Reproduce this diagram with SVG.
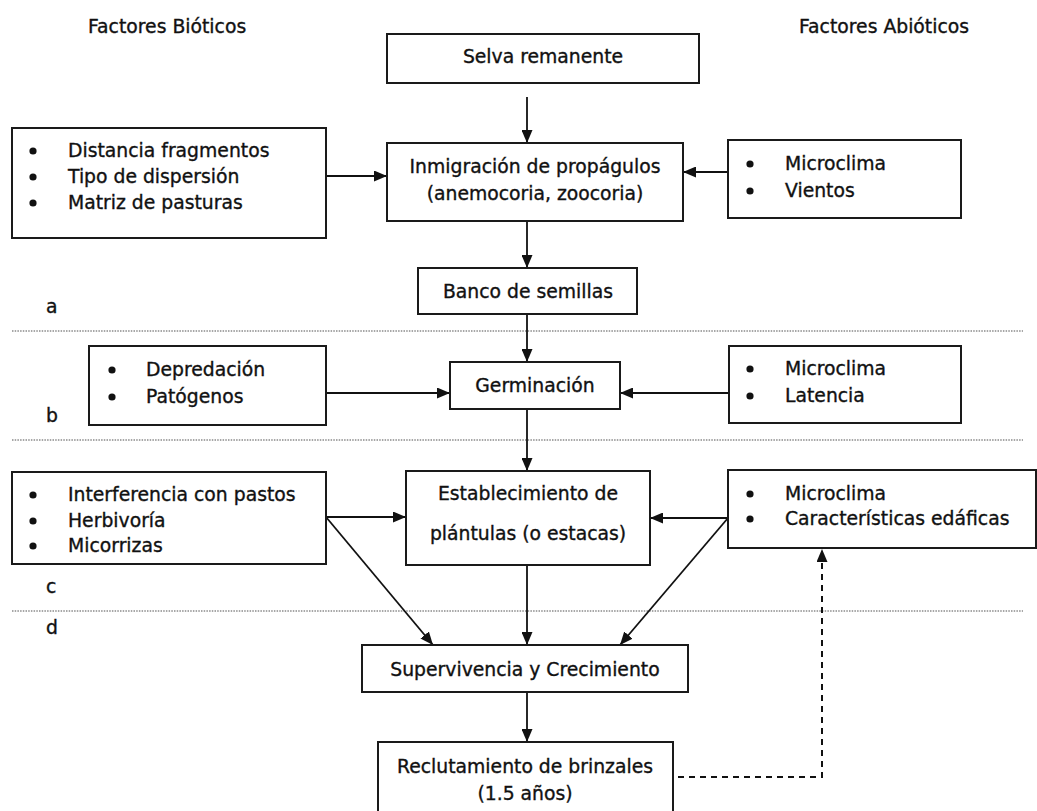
<svg xmlns="http://www.w3.org/2000/svg" width="1037" height="811" viewBox="0 0 1037 811">
<style>
text{font-family:"DejaVu Sans","Verdana",sans-serif;font-size:18.8px;fill:#111;stroke:#111;stroke-width:0.35}
.c{text-anchor:middle}
.box{fill:#fff;stroke:#1a1a1a;stroke-width:2}
.bul{fill:#111}
.sep{stroke:#8a8a8a;stroke-width:1.3;stroke-dasharray:1.5 1.2;fill:none}
.ln{stroke:#111;stroke-width:1.8;fill:none}
.dash{stroke:#111;stroke-width:2;fill:none;stroke-dasharray:6 5}
</style>
<defs>
<marker id="ah" markerUnits="userSpaceOnUse" markerWidth="13" markerHeight="11" refX="13" refY="5.5" orient="auto">
<path d="M0,0 L13,5.5 L0,11 z" fill="#111"/>
</marker>
</defs>
<rect width="1037" height="811" fill="#fff"/>

<g id="headers">
<text x="88" y="33">Factores Bióticos</text>
<text x="799" y="33">Factores Abióticos</text>
</g>

<g id="stage-labels">
<text x="46" y="313">a</text>
<text x="46" y="422">b</text>
<text x="46" y="593">c</text>
<text x="46" y="634">d</text>
</g>

<g id="separators">
<line class="sep" x1="12" y1="331" x2="1023" y2="331"/>
<line class="sep" x1="12" y1="440" x2="1023" y2="440"/>
<line class="sep" x1="12" y1="611" x2="1023" y2="611"/>
</g>

<g id="connectors">
<line class="ln" x1="527" y1="97" x2="527" y2="143" marker-end="url(#ah)"/>
<line class="ln" x1="326" y1="176" x2="387" y2="176" marker-end="url(#ah)"/>
<line class="ln" x1="728" y1="172" x2="683" y2="172" marker-end="url(#ah)"/>
<line class="ln" x1="527" y1="221" x2="527" y2="268" marker-end="url(#ah)"/>
<line class="ln" x1="527" y1="314" x2="527" y2="362" marker-end="url(#ah)"/>
<line class="ln" x1="326" y1="393" x2="450" y2="393" marker-end="url(#ah)"/>
<line class="ln" x1="729" y1="393" x2="620" y2="393" marker-end="url(#ah)"/>
<line class="ln" x1="527" y1="409" x2="527" y2="471" marker-end="url(#ah)"/>
<line class="ln" x1="326" y1="517" x2="406" y2="517" marker-end="url(#ah)"/>
<line class="ln" x1="728" y1="518" x2="650" y2="518" marker-end="url(#ah)"/>
<line class="ln" x1="326" y1="517" x2="433" y2="645" marker-end="url(#ah)"/>
<line class="ln" x1="728" y1="518" x2="620" y2="645" marker-end="url(#ah)"/>
<line class="ln" x1="527" y1="565" x2="527" y2="645" marker-end="url(#ah)"/>
<line class="ln" x1="527" y1="692" x2="527" y2="742" marker-end="url(#ah)"/>
<polyline class="dash" points="678,777 822,777 822,549" marker-end="url(#ah)"/>
</g>

<g id="selva">
<rect class="box" x="387" y="34" width="312" height="49"/>
<text class="c" x="543" y="63">Selva remanente</text>
</g>

<g id="bioticos-a">
<rect class="box" x="12" y="128" width="314" height="110"/>
<circle class="bul" cx="33" cy="151" r="3.6"/>
<circle class="bul" cx="33" cy="177" r="3.6"/>
<circle class="bul" cx="33" cy="203" r="3.6"/>
<text x="68" y="157">Distancia fragmentos</text>
<text x="68" y="183">Tipo de dispersión</text>
<text x="68" y="209">Matriz de pasturas</text>
</g>

<g id="inmigracion">
<rect class="box" x="387" y="143" width="296" height="78"/>
<text class="c" x="535" y="173">Inmigración de propágulos</text>
<text class="c" x="535" y="200">(anemocoria, zoocoria)</text>
</g>

<g id="abioticos-a">
<rect class="box" x="728" y="140" width="233" height="78"/>
<circle class="bul" cx="750" cy="164" r="3.6"/>
<circle class="bul" cx="750" cy="191" r="3.6"/>
<text x="785" y="170">Microclima</text>
<text x="785" y="197">Vientos</text>
</g>

<g id="banco">
<rect class="box" x="418" y="268" width="219" height="46"/>
<text class="c" x="528" y="298">Banco de semillas</text>
</g>

<g id="bioticos-b">
<rect class="box" x="89" y="346" width="237" height="79"/>
<circle class="bul" cx="112" cy="370" r="3.6"/>
<circle class="bul" cx="112" cy="397" r="3.6"/>
<text x="146" y="376">Depredación</text>
<text x="146" y="403">Patógenos</text>
</g>

<g id="germinacion">
<rect class="box" x="450" y="362" width="170" height="47"/>
<text class="c" x="535" y="392">Germinación</text>
</g>

<g id="abioticos-b">
<rect class="box" x="729" y="346" width="232" height="77"/>
<circle class="bul" cx="750" cy="369" r="3.6"/>
<circle class="bul" cx="750" cy="396" r="3.6"/>
<text x="785" y="375">Microclima</text>
<text x="785" y="402">Latencia</text>
</g>

<g id="bioticos-c">
<rect class="box" x="12" y="472" width="314" height="92"/>
<circle class="bul" cx="33" cy="495" r="3.6"/>
<circle class="bul" cx="33" cy="521" r="3.6"/>
<circle class="bul" cx="33" cy="546" r="3.6"/>
<text x="68" y="501">Interferencia con pastos</text>
<text x="68" y="527">Herbivoría</text>
<text x="68" y="552">Micorrizas</text>
</g>

<g id="establecimiento">
<rect class="box" x="406" y="471" width="244" height="94"/>
<text class="c" x="528" y="500">Establecimiento de</text>
<text class="c" x="528" y="540">plántulas (o estacas)</text>
</g>

<g id="abioticos-c">
<rect class="box" x="728" y="470" width="308" height="78"/>
<circle class="bul" cx="750" cy="494" r="3.6"/>
<circle class="bul" cx="750" cy="519" r="3.6"/>
<text x="785" y="500">Microclima</text>
<text x="785" y="525">Características edáficas</text>
</g>

<g id="supervivencia">
<rect class="box" x="362" y="645" width="326" height="47"/>
<text class="c" x="525" y="676">Supervivencia y Crecimiento</text>
</g>

<g id="reclutamiento">
<rect class="box" x="378" y="742" width="295" height="75"/>
<text class="c" x="525" y="773">Reclutamiento de brinzales</text>
<text class="c" x="525" y="800">(1.5 años)</text>
</g>
</svg>
